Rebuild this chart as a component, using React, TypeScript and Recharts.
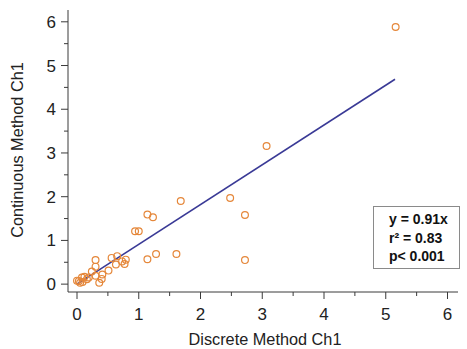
import { ScatterChart, Scatter, XAxis, YAxis, ReferenceLine } from "recharts";

// Discrete (x) vs continuous (y) readings, channel 1
const discrete = [
  5.16, 3.07, 2.48, 2.72, 2.72, 1.68, 1.14, 1.23, 0.94, 1.0,
  1.61, 1.28, 1.14, 0.79, 0.65, 0.56, 0.73, 0.63, 0.77, 0.3,
  0.3, 0.51, 0.41, 0.24, 0.3, 0.4, 0.36, 0.19, 0.12, 0.08,
  0.03, 0.0, 0.05, 0.09, 0.16,
];
const continuous = [
  5.88, 3.16, 1.97, 1.58, 0.55, 1.9, 1.59, 1.53, 1.21, 1.21,
  0.69, 0.69, 0.57, 0.56, 0.64, 0.6, 0.52, 0.45, 0.46, 0.55,
  0.4, 0.31, 0.22, 0.29, 0.19, 0.12, 0.03, 0.15, 0.17, 0.15,
  0.07, 0.08, 0.03, 0.05, 0.11,
];

const tickValues = [0, 0.5, 1, 1.5, 2, 2.5, 3, 3.5, 4, 4.5, 5, 5.5, 6];
const fitSlope = 0.91;
const fitStart = 0;
const fitEnd = 5.15;
const statsLines = ["y = 0.91x", "r\u00b2 = 0.83", "p< 0.001"];

const points = discrete.map((x, i) => ({ x, y: continuous[i] }));

const font = "'Liberation Sans', Arial, sans-serif";
const axisColor = "#3a3a3a";
const textColor = "#222";

const XTick = (props: any) => {
  const { x, y, payload } = props;
  const major = Number.isInteger(payload.value);
  return (
    <g>
      <line x1={x} x2={x} y1={y} y2={y + (major ? 7 : 4)} stroke={axisColor} />
      {major && (
        <text x={x} y={y + 28} textAnchor="middle" fontSize={17} fontFamily={font} fill={textColor}>
          {payload.value}
        </text>
      )}
    </g>
  );
};

const YTick = (props: any) => {
  const { x, y, payload } = props;
  const major = Number.isInteger(payload.value);
  return (
    <g>
      <line x1={x} x2={x - (major ? 7 : 4)} y1={y} y2={y} stroke={axisColor} />
      {major && (
        <text x={x - 12} y={y + 6} textAnchor="end" fontSize={17} fontFamily={font} fill={textColor}>
          {payload.value}
        </text>
      )}
    </g>
  );
};

const Dot = (props: any) => (
  <circle cx={props.cx} cy={props.cy} r={3.4} fill="none" stroke="#E5873A" strokeWidth={1.2} />
);

export default function App() {
  return (
    <div style={{ position: "absolute", left: 0, top: 0, width: 467, height: 349, background: "#fff" }}>
      <ScatterChart width={467} height={349} margin={{ top: 10, right: 9, bottom: 0, left: 0 }}>
        <XAxis
          type="number"
          dataKey="x"
          domain={[-0.146, 6.17]}
          allowDataOverflow
          ticks={tickValues}
          interval={0}
          height={57}
          stroke={axisColor}
          tickLine={false}
          tickSize={0}
          tickMargin={0}
          tick={<XTick />}
          label={{
            content: () => (
              <text x={265} y={345} textAnchor="middle" fontSize={16.3} fontFamily={font} fill={textColor}>
                Discrete Method Ch1
              </text>
            ),
          }}
        />
        <YAxis
          type="number"
          dataKey="y"
          domain={[-0.18, 6.27]}
          allowDataOverflow
          ticks={tickValues}
          interval={0}
          width={68}
          stroke={axisColor}
          tickLine={false}
          tickSize={0}
          tickMargin={0}
          tick={<YTick />}
          label={{
            content: () => (
              <text
                x={23}
                y={150}
                transform="rotate(-90 23 150)"
                textAnchor="middle"
                fontSize={16.3}
                fontFamily={font}
                fill={textColor}
              >
                Continuous Method Ch1
              </text>
            ),
          }}
        />
        <ReferenceLine
          segment={[
            { x: fitStart, y: fitSlope * fitStart },
            { x: fitEnd, y: fitSlope * fitEnd },
          ]}
          stroke="#3A3A96"
          strokeWidth={1.6}
          ifOverflow="visible"
        />
        <Scatter data={points} shape={<Dot />} isAnimationActive={false} />
      </ScatterChart>
      <div
        style={{
          position: "absolute",
          left: 373,
          top: 206,
          width: 87,
          height: 63,
          boxSizing: "border-box",
          border: "1px solid #8a8a8a",
          background: "#fff",
          padding: "3px 0 0 15px",
          fontFamily: font,
          fontWeight: "bold",
          fontSize: 14,
          lineHeight: "18.5px",
          color: "#111",
        }}
      >
        {statsLines.map((s) => (
          <div key={s}>{s}</div>
        ))}
      </div>
    </div>
  );
}
